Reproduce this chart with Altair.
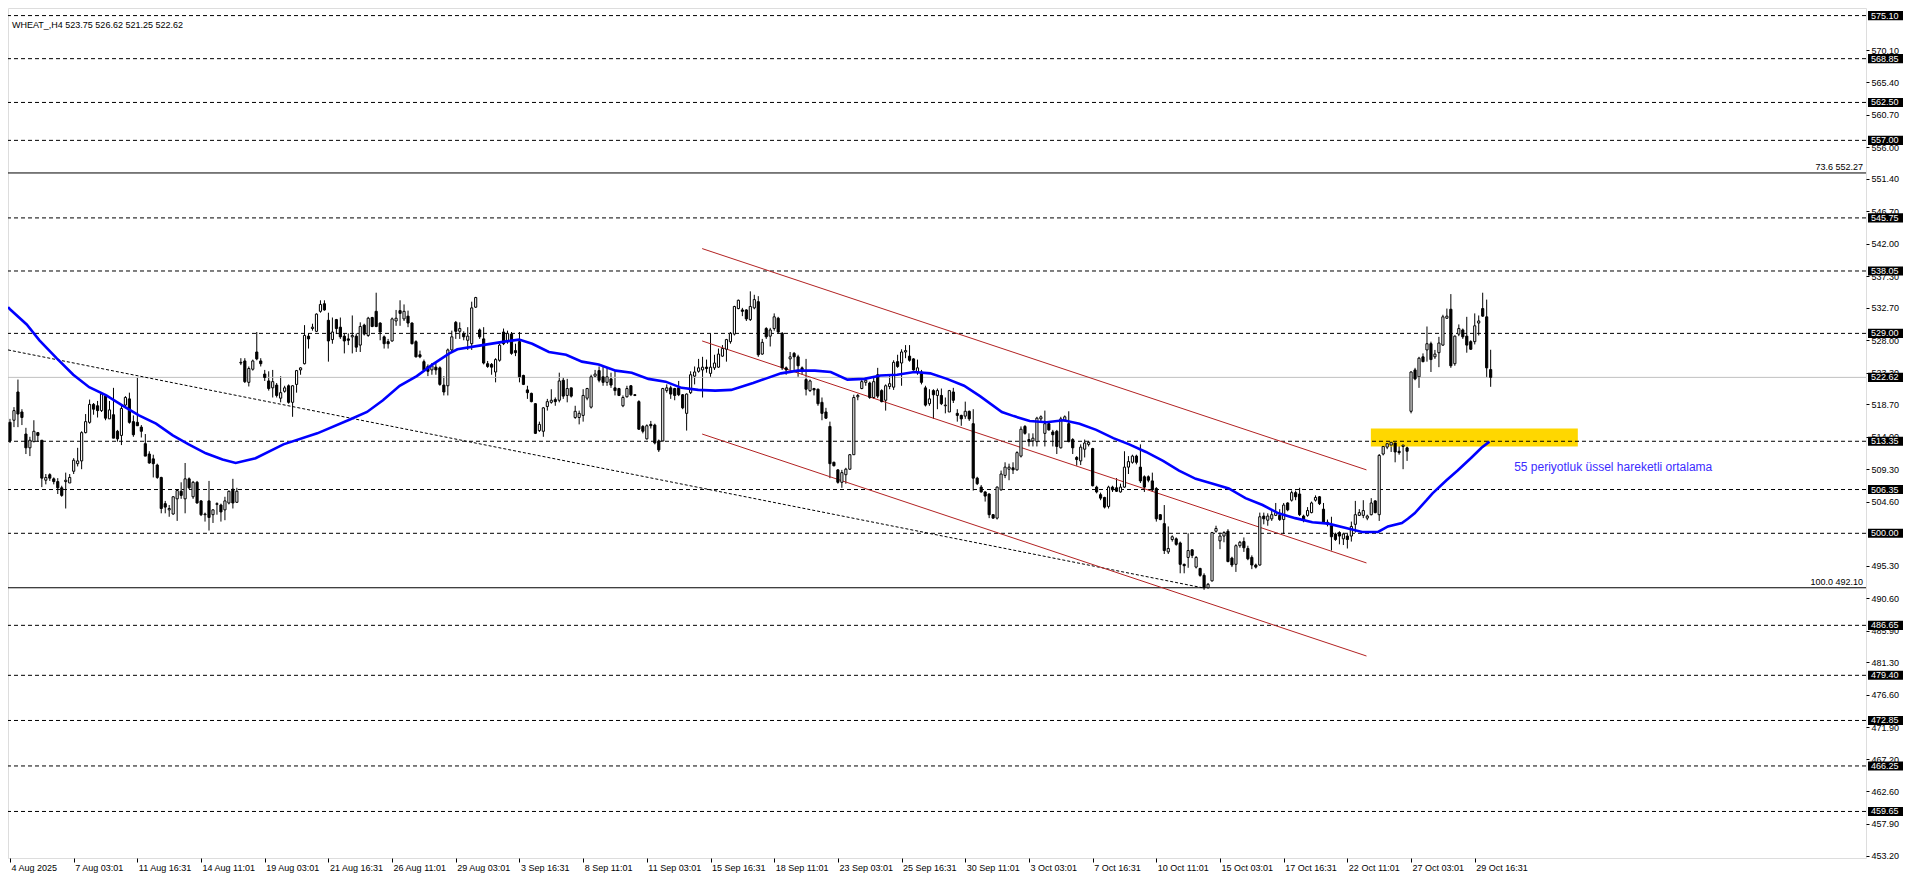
import altair as alt
import pandas as pd

title_text = "WHEAT_,H4  523.75 526.62 521.25 522.62"

opens = [
516.1, 516.4, 520.5, 517.6, 514.4, 512.4, 513.3, 514.6, 513.5, 507.7,
508.5, 507.9, 507.5, 506.6, 507.5, 507.3, 509.0, 510.1, 510.5, 514.6,
516.1, 518.7, 518.5, 517.8, 519.9, 516.6, 517.2, 514.8, 514.2, 518.6,
519.5, 516.2, 516.1, 515.4, 513.0, 511.5, 510.8, 509.9, 508.1, 504.3,
503.4, 502.8, 505.0, 506.1, 505.0, 507.9, 505.3, 507.4, 504.7, 502.7,
504.7, 502.7, 504.2, 504.1, 503.4, 504.4, 506.4, 504.5, 524.7, 525.0,
521.9, 523.8, 526.3, 525.0, 523.1, 522.1, 521.1, 521.5, 519.6, 520.6,
521.4, 519.0, 521.6, 523.7, 524.6, 528.6, 529.7, 529.3, 532.2, 533.3,
530.9, 528.1, 531.0, 529.9, 528.6, 528.2, 528.5, 528.6, 527.3, 530.2,
528.7, 531.3, 532.2, 530.5, 528.5, 527.8, 527.9, 530.8, 532.3, 531.1,
531.5, 530.5, 527.8, 525.9, 524.9, 524.2, 523.7, 524.1, 524.0, 521.5,
521.4, 526.6, 530.6, 529.3, 528.9, 528.0, 527.5, 532.8, 529.5, 528.2,
524.6, 524.5, 523.4, 525.1, 529.2, 527.8, 528.9, 526.5, 527.8, 522.9,
520.8, 520.3, 518.8, 514.9, 514.8, 518.4, 519.0, 519.4, 519.3, 522.2,
520.0, 521.1, 516.8, 516.8, 517.1, 519.6, 518.3, 522.8, 523.6, 522.7,
521.9, 522.4, 521.1, 521.0, 518.5, 519.8, 521.4, 520.1, 519.1, 515.5,
513.7, 515.8, 515.7, 513.4, 513.4, 520.7, 521.1, 521.0, 521.1, 520.1,
517.4, 520.4, 522.8, 523.5, 523.7, 524.1, 523.2, 524.0, 524.1, 525.7,
526.7, 527.8, 528.9, 532.6, 532.4, 532.4, 531.0, 532.7, 533.6, 526.0,
529.7, 528.6, 529.7, 531.2, 529.0, 524.0, 525.3, 526.1, 525.6, 524.0,
522.3, 520.7, 521.0, 520.9, 519.0, 517.6, 515.5, 510.3, 509.2, 507.4,
508.5, 509.3, 511.4, 519.8, 521.0, 521.9, 521.8, 519.7, 523.0, 520.7,
519.3, 521.3, 521.2, 524.9, 524.7, 526.3, 525.7, 525.3, 523.3, 523.4,
521.1, 518.8, 520.7, 520.0, 520.0, 518.5, 517.6, 520.5, 517.4, 517.1,
517.0, 517.7, 515.9, 508.0, 506.7, 506.0, 505.7, 502.7, 502.2, 506.3,
508.4, 509.3, 509.5, 509.2, 511.2, 515.5, 513.6, 513.4, 513.3, 516.6,
514.5, 515.9, 514.7, 514.8, 512.4, 516.4, 515.9, 513.6, 511.0, 510.5,
512.2, 512.9, 512.3, 506.7, 505.6, 505.2, 503.9, 506.7, 506.6, 506.0,
506.7, 509.6, 510.3, 511.2, 509.6, 508.2, 508.2, 507.6, 506.5, 502.7,
501.4, 497.3, 499.1, 499.2, 498.6, 495.5, 496.5, 497.6, 495.1, 494.9,
493.9, 492.1, 493.1, 500.3, 498.9, 499.6, 500.3, 496.4, 495.5, 498.2,
498.8, 497.8, 496.5, 495.4, 495.4, 502.5, 501.9, 502.1, 502.6, 502.6,
502.0, 504.4, 504.8, 505.9, 505.7, 502.5, 502.6, 503.0, 504.8, 505.3,
503.5, 501.6, 501.1, 499.9, 500.1, 499.2, 499.6, 499.6, 501.3, 502.6,
502.6, 502.2, 502.7, 504.7, 502.7, 511.5, 512.5, 512.8, 513.1, 511.9,
512.6, 512.4, 517.7, 523.7, 522.7, 525.6, 526.6, 527.5, 525.6, 526.2,
527.3, 531.2, 532.5, 524.6, 528.9, 529.5, 528.6, 527.8, 527.8, 530.5,
532.6, 531.4, 523.75]

highs = [
516.6, 518.3, 522.3, 518.0, 515.3, 514.0, 516.4, 514.7, 513.5, 508.6,
508.7, 508.1, 508.0, 506.9, 508.8, 508.6, 510.9, 512.4, 514.8, 517.3,
519.4, 518.9, 519.2, 520.4, 520.2, 519.2, 521.1, 515.0, 518.5, 519.9,
520.4, 517.1, 522.6, 515.7, 514.4, 511.9, 511.4, 510.1, 508.2, 504.7,
504.1, 505.4, 506.4, 507.4, 510.2, 508.1, 507.6, 507.6, 504.8, 503.0,
507.6, 503.5, 504.5, 504.3, 505.3, 506.2, 507.9, 506.6, 525.4, 525.4,
524.2, 525.2, 529.2, 525.4, 523.7, 523.5, 523.7, 521.8, 522.8, 521.4,
521.6, 521.5, 523.7, 524.1, 530.2, 529.0, 530.4, 531.9, 533.8, 533.8,
532.0, 531.3, 531.1, 531.3, 529.0, 529.0, 531.6, 529.0, 530.6, 530.4,
531.4, 531.4, 534.9, 530.6, 528.7, 528.2, 531.3, 532.4, 533.8, 533.2,
532.3, 530.6, 528.0, 526.5, 525.2, 524.5, 524.7, 524.7, 524.2, 522.8,
526.8, 529.4, 530.8, 530.6, 529.3, 529.9, 533.6, 534.3, 529.7, 529.9,
525.0, 524.7, 525.4, 527.5, 529.7, 529.4, 529.2, 527.5, 529.2, 523.0,
521.4, 520.4, 518.9, 516.2, 518.3, 519.5, 520.9, 519.7, 523.3, 522.6,
522.4, 521.1, 518.5, 517.8, 520.9, 521.1, 523.0, 523.7, 524.2, 524.2,
524.0, 523.3, 523.7, 521.1, 520.0, 521.4, 521.5, 520.2, 519.3, 515.7,
515.8, 516.3, 515.9, 513.6, 521.1, 521.6, 521.4, 521.1, 522.1, 520.2,
520.3, 523.5, 524.2, 525.3, 525.6, 525.2, 529.0, 525.9, 526.8, 527.3,
528.2, 529.2, 533.0, 533.9, 532.7, 532.5, 535.1, 534.6, 534.4, 528.2,
529.9, 529.8, 531.9, 531.4, 529.2, 524.2, 526.3, 526.3, 525.9, 524.2,
525.3, 522.3, 521.1, 521.0, 519.7, 518.2, 516.2, 510.4, 509.3, 509.2,
509.5, 511.5, 520.1, 520.2, 522.4, 522.6, 522.0, 522.8, 524.0, 520.9,
521.6, 523.0, 525.1, 525.9, 526.7, 527.3, 527.3, 525.4, 525.2, 523.7,
521.4, 520.9, 520.9, 521.0, 521.0, 519.7, 520.8, 521.1, 518.0, 517.2,
519.1, 517.8, 518.0, 508.2, 507.0, 506.1, 505.8, 502.8, 506.8, 509.1,
510.3, 510.1, 510.3, 511.9, 515.5, 515.7, 514.5, 514.5, 516.9, 517.1,
517.8, 516.2, 515.0, 515.0, 516.9, 517.1, 517.7, 513.8, 511.2, 512.9,
513.6, 513.4, 512.4, 506.9, 505.9, 505.3, 506.9, 506.9, 508.0, 507.2,
511.9, 511.2, 511.4, 511.4, 512.9, 508.4, 508.4, 508.8, 506.7, 502.8,
504.1, 501.0, 499.7, 499.4, 498.8, 495.6, 500.0, 497.7, 496.7, 495.0,
494.2, 492.8, 500.2, 501.1, 500.1, 500.3, 500.6, 496.6, 498.4, 498.9,
499.4, 498.2, 496.8, 495.6, 503.0, 503.0, 502.9, 503.4, 504.4, 503.5,
504.4, 504.5, 506.2, 506.2, 506.6, 502.7, 503.8, 504.6, 505.5, 505.4,
504.4, 502.0, 502.4, 500.1, 500.3, 500.1, 499.9, 501.7, 504.7, 503.5,
504.8, 502.7, 505.1, 504.8, 511.5, 513.0, 513.7, 513.6, 513.3, 512.9,
514.8, 512.6, 523.5, 524.0, 525.6, 526.1, 530.0, 527.8, 526.6, 528.5,
531.7, 532.6, 534.7, 528.7, 530.3, 529.7, 531.4, 528.0, 531.9, 531.6,
534.9, 533.9, 526.62]

lows = [
513.1, 515.4, 515.4, 515.7, 511.5, 511.2, 513.2, 513.3, 506.7, 507.1,
507.6, 507.1, 505.7, 505.3, 503.6, 507.3, 508.6, 509.7, 509.3, 514.5,
515.9, 517.2, 516.8, 517.6, 516.4, 516.6, 513.8, 513.3, 512.8, 518.4,
515.9, 514.0, 515.6, 513.9, 511.2, 510.1, 508.1, 507.9, 502.9, 502.9,
502.4, 502.7, 501.8, 505.0, 502.9, 506.4, 505.0, 504.3, 502.5, 501.7,
500.4, 501.5, 502.7, 501.7, 501.9, 504.2, 503.6, 504.4, 524.4, 521.8,
521.3, 523.6, 525.1, 524.2, 522.1, 520.7, 519.7, 519.7, 519.0, 520.4,
518.8, 516.9, 520.4, 523.0, 524.5, 526.8, 529.4, 529.2, 532.0, 532.3,
524.9, 527.5, 528.9, 528.2, 526.1, 527.3, 526.1, 526.3, 526.3, 528.7,
528.5, 529.9, 529.9, 528.0, 526.8, 526.8, 527.8, 530.1, 530.1, 530.8,
529.9, 527.4, 525.5, 525.4, 523.5, 522.8, 523.0, 523.0, 521.4, 520.0,
520.0, 526.3, 528.2, 528.2, 528.0, 526.6, 526.6, 532.7, 528.2, 524.5,
524.0, 523.0, 521.9, 524.9, 527.3, 527.5, 525.9, 525.7, 521.9, 521.5,
519.5, 519.0, 514.4, 514.7, 514.0, 517.8, 518.8, 518.5, 519.0, 519.5,
519.0, 519.7, 516.6, 515.8, 516.2, 519.3, 518.1, 522.6, 521.9, 521.4,
521.4, 521.1, 520.0, 519.9, 518.3, 519.7, 519.9, 519.9, 515.0, 514.5,
513.6, 515.2, 512.9, 511.8, 513.3, 520.4, 519.5, 519.3, 519.9, 518.0,
514.9, 520.2, 521.6, 523.3, 519.7, 523.3, 522.7, 523.7, 524.0, 525.6,
524.9, 527.5, 528.7, 532.5, 531.5, 530.8, 530.8, 532.5, 525.6, 525.9,
528.2, 527.1, 529.4, 529.0, 523.7, 523.0, 523.7, 523.7, 522.7, 523.0,
520.0, 520.5, 520.0, 518.5, 516.4, 516.6, 508.0, 509.7, 507.2, 506.6,
507.2, 509.2, 511.4, 519.3, 520.9, 521.4, 519.5, 519.5, 519.6, 519.0,
517.8, 520.9, 520.8, 524.0, 521.4, 525.4, 524.9, 523.6, 523.0, 521.6,
518.4, 518.5, 516.6, 518.0, 518.6, 517.4, 517.6, 518.9, 516.2, 515.6,
516.6, 516.3, 506.2, 507.0, 505.9, 504.6, 502.2, 502.1, 502.0, 506.2,
508.0, 507.7, 508.6, 509.1, 511.0, 514.3, 512.6, 512.6, 512.6, 516.2,
512.6, 514.9, 512.6, 511.5, 512.3, 516.2, 513.2, 511.5, 509.8, 509.9,
511.0, 512.6, 506.8, 505.8, 504.8, 503.6, 503.6, 506.0, 506.0, 505.9,
506.6, 508.6, 510.1, 510.0, 507.3, 506.0, 507.4, 506.0, 501.7, 501.9,
497.0, 497.0, 498.8, 498.2, 494.2, 494.2, 495.0, 496.4, 494.9, 493.7,
491.8, 492.0, 493.0, 500.1, 497.7, 498.7, 495.8, 495.1, 494.4, 497.9,
497.3, 496.1, 494.8, 494.9, 495.3, 501.3, 501.1, 501.8, 502.5, 501.8,
499.9, 503.2, 504.6, 504.8, 502.5, 501.6, 502.4, 502.9, 504.6, 504.1,
501.4, 501.0, 497.5, 498.9, 498.4, 498.3, 497.8, 498.8, 500.1, 502.5,
502.2, 501.9, 502.6, 502.9, 501.8, 511.3, 512.2, 511.8, 510.3, 511.4,
509.3, 510.5, 517.4, 522.2, 521.1, 524.8, 524.9, 523.4, 525.3, 524.1,
527.2, 531.1, 524.0, 524.3, 528.6, 528.2, 526.2, 526.6, 527.4, 528.7,
531.4, 522.6, 521.25]

closes = [
513.4, 517.8, 517.3, 516.8, 512.4, 513.5, 514.8, 514.2, 508.0, 508.1,
508.0, 507.5, 506.6, 505.5, 507.7, 508.1, 510.6, 510.5, 514.6, 516.2,
518.7, 518.0, 517.8, 520.2, 516.7, 517.9, 513.8, 513.7, 518.1, 519.7,
516.1, 514.3, 515.6, 514.8, 511.2, 510.2, 510.1, 508.1, 503.6, 503.8,
503.6, 505.3, 506.2, 505.5, 507.9, 506.6, 507.4, 504.4, 502.7, 502.8,
502.3, 503.4, 504.3, 503.1, 504.7, 506.1, 504.4, 506.1, 524.8, 522.0,
523.9, 525.0, 525.3, 524.6, 522.6, 521.0, 522.0, 520.0, 520.4, 521.1,
519.0, 521.4, 523.6, 524.0, 528.7, 528.2, 529.9, 531.8, 533.2, 532.4,
527.9, 529.2, 529.7, 528.5, 527.9, 528.0, 528.7, 527.0, 530.0, 528.9,
531.2, 530.0, 530.0, 529.2, 527.5, 527.5, 531.1, 531.2, 531.9, 532.2,
530.5, 527.5, 525.6, 525.6, 523.7, 523.5, 524.3, 523.7, 521.6, 520.5,
526.6, 528.5, 529.3, 529.7, 528.5, 528.6, 532.7, 534.2, 528.5, 524.7,
524.2, 524.1, 525.2, 527.3, 527.5, 529.0, 526.1, 526.2, 522.7, 521.6,
520.4, 519.1, 514.5, 515.8, 518.2, 519.1, 519.3, 519.1, 522.1, 519.9,
521.0, 519.9, 517.7, 517.4, 520.0, 521.0, 522.7, 523.1, 522.2, 521.9,
522.7, 521.5, 520.7, 520.0, 519.7, 521.0, 520.1, 520.0, 515.1, 514.8,
515.6, 515.6, 513.1, 512.1, 521.0, 521.1, 520.2, 520.0, 520.1, 518.2,
520.2, 523.0, 523.4, 524.0, 524.1, 523.9, 524.1, 524.7, 526.0, 526.8,
528.1, 529.0, 532.9, 533.8, 532.2, 531.1, 532.9, 533.9, 525.9, 527.7,
528.5, 529.5, 531.4, 529.2, 524.0, 523.7, 525.6, 525.6, 524.3, 523.5,
520.9, 522.1, 520.8, 518.8, 517.4, 516.7, 510.1, 509.8, 507.4, 508.8,
509.3, 511.4, 519.7, 520.0, 522.0, 522.2, 519.7, 522.0, 519.9, 519.1,
521.4, 521.7, 524.8, 524.2, 526.3, 526.5, 525.1, 523.7, 524.0, 521.9,
518.6, 519.5, 520.1, 520.7, 518.8, 518.6, 520.7, 519.3, 517.1, 516.6,
517.7, 516.6, 508.0, 507.2, 506.0, 505.4, 502.7, 502.2, 506.7, 508.6,
509.6, 509.6, 509.2, 511.7, 515.1, 514.5, 513.3, 513.8, 516.7, 516.9,
515.9, 515.0, 514.3, 512.6, 516.6, 516.9, 513.3, 512.4, 510.7, 512.5,
513.1, 513.2, 506.9, 506.0, 505.1, 503.8, 506.7, 506.3, 506.1, 506.7,
509.6, 510.4, 511.2, 510.3, 507.6, 506.7, 507.7, 506.3, 502.1, 502.0,
497.5, 497.8, 499.5, 498.4, 495.5, 495.3, 497.5, 496.8, 496.5, 493.9,
492.1, 492.6, 500.1, 500.7, 499.6, 500.1, 495.9, 495.4, 498.2, 498.7,
497.9, 496.3, 495.4, 495.1, 502.4, 502.1, 502.5, 502.7, 503.0, 502.0,
504.1, 503.4, 505.9, 505.3, 502.7, 501.9, 503.3, 504.4, 505.2, 504.3,
501.6, 501.3, 499.5, 499.1, 499.6, 499.9, 499.1, 501.0, 502.7, 503.0,
503.3, 502.5, 504.4, 503.0, 511.3, 512.6, 513.0, 513.2, 511.8, 511.7,
512.8, 511.9, 523.4, 522.4, 525.4, 524.9, 527.5, 525.2, 526.0, 527.6,
531.4, 531.5, 524.3, 528.6, 529.7, 528.5, 527.3, 526.7, 530.1, 530.8,
531.5, 524.0, 522.62]

time_labels = ["4 Aug 2025", "7 Aug 03:01", "11 Aug 16:31", "14 Aug 11:01",
               "19 Aug 03:01", "21 Aug 16:31", "26 Aug 11:01", "29 Aug 03:01",
               "3 Sep 16:31", "8 Sep 11:01", "11 Sep 03:01", "15 Sep 16:31",
               "18 Sep 11:01", "23 Sep 03:01", "25 Sep 16:31", "30 Sep 11:01",
               "3 Oct 03:01", "7 Oct 16:31", "10 Oct 11:01", "15 Oct 03:01",
               "17 Oct 16:31", "22 Oct 11:01", "27 Oct 03:01", "29 Oct 16:31"]
label_step = 16

ema_bars = [-0.5, 0, 4.2, 7.4, 11.7, 15.9, 19.9, 24.2, 28.4, 32.4, 36.7, 40.9, 44.9,
            49.2, 53.4, 56.7, 61.7, 68.7, 77.2, 85.4, 89.7, 93.7, 97.9, 102.2, 106.2,
            110.4, 112.4, 118.7, 124.2, 127.9, 131.2, 135.4, 139.7, 143.7, 147.9,
            152.2, 156.2, 160.4, 164.7, 168.7, 172.9, 177.2, 181.2, 186.7, 189.7,
            193.7, 197.9, 202.2, 206.2, 210.4, 214.7, 218.7, 222.9, 227.2, 231.2,
            235.4, 239.7, 243.7, 249.2, 252.2, 256.2, 260.4, 264.7, 268.7, 272.9,
            277.2, 281.2, 285.4, 289.7, 293.7, 297.9, 302.2, 306.2, 310.4, 314.7,
            318.7, 322.9, 327.2, 331.2, 335.4, 339.7, 343.7, 346.2, 349.7, 351.2,
            352.9, 355.9, 357.4, 360.9, 363.7, 367.2, 369.7, 371.7]
ema_values = [532.8, 532.5, 530.3, 528.0, 525.4, 523.0, 521.2, 520.0, 518.5, 517.1, 515.9,
              514.2, 512.9, 511.6, 510.7, 510.2, 510.9, 512.9, 514.5, 516.5, 517.6, 519.3,
              521.4, 522.8, 524.5, 526.1, 526.7, 527.3, 527.8, 528.1, 527.5, 526.3, 525.9,
              524.9, 524.5, 523.6, 523.3, 522.4, 522.0, 521.1, 520.8, 520.7, 520.8, 521.8,
              522.4, 523.2, 523.6, 523.6, 523.4, 522.3, 522.4, 522.9, 523.0, 523.4, 523.2,
              522.4, 521.4, 519.9, 517.6, 517.0, 516.3, 516.1, 516.4, 515.9, 515.0, 513.8,
              512.9, 511.8, 510.5, 509.1, 507.9, 507.2, 506.5, 505.1, 504.1, 502.9, 502.2,
              501.6, 501.4, 500.8, 500.2, 500.2, 501.0, 501.5, 502.1, 502.9, 504.8, 505.8,
              507.7, 509.1, 511.0, 512.4, 513.3]

level_prices = [575.10, 568.85, 562.50, 557.00, 545.75, 538.05, 529.00, 513.35,
                506.35, 500.00, 486.65, 479.40, 472.85, 466.25, 459.65]
fib_prices = [552.27, 492.10]
fib_labels = ["73.6 552.27", "100.0 492.10"]
last_price = 522.62
price_ticks = [453.2, 457.9, 462.6, 467.2, 471.9, 476.6, 481.3, 485.9, 490.6, 495.3,
               504.6, 509.3, 514.0, 518.7, 523.3, 528.0, 532.7, 537.3, 542.0,
               546.7, 551.4, 556.0, 560.7, 565.4, 570.1]

channel_start_bar = 173.9
channel_end_bar = 340.8
channel_start = [541.3, 527.9, 514.4]
channel_end = [509.2, 495.7, 482.2]

trend_bars = [-0.5, 299.6]
trend_prices = [526.6, 492.1]

zone_bars = [341.9, 393.9]
zone_prices = [512.6, 515.2]

note_text = "55 periyotluk üssel hareketli ortalama"
note_bar = 377.9
note_price = 509.65

# ---------------- layout ----------------
W, H = 1858, 850
FONT = "Liberation Sans"
xs = alt.Scale(domain=[-0.5, 466.3], nice=False, zero=False)
ys = alt.Scale(domain=[452.9, 576.2], nice=False, zero=False)

n = len(closes)
candles = pd.DataFrame({"bar": list(range(n)), "o": opens, "h": highs,
                        "l": lows, "c": closes})
candles["x0"] = candles["bar"] - 0.27
candles["x1"] = candles["bar"] + 0.27
candles["top"] = candles[["o", "c"]].max(axis=1)
candles["bot"] = candles[["o", "c"]].min(axis=1)

label_expr = ("[" + ",".join("'" + t + "'" for t in time_labels) + "]"
              + f"[round(datum.value / {label_step})]")

XA = alt.Axis(values=[label_step * i for i in range(len(time_labels))],
              labelExpr=label_expr, orient="bottom", tickSize=4,
              tickColor="black", labelAlign="left", labelPadding=1,
              labelOffset=1, labelFontSize=9, labelFont=FONT,
              labelColor="black", domain=False, grid=False, title=None,
              labelOverlap=False, labelFlush=False, labelBound=False)
YA = alt.Axis(values=price_ticks, format=".2f", orient="right", tickSize=3,
              tickColor="black", labelPadding=2, labelFontSize=9,
              labelFont=FONT, labelColor="black", domain=False, grid=False,
              title=None, labelOverlap=False, labelFlush=False,
              labelBound=False)


def X(field):
    return alt.X(field, scale=xs, axis=XA, title=None)


def Y(field):
    return alt.Y(field, scale=ys, axis=YA, title=None)


wicks = alt.Chart(candles).mark_rule(color="black", strokeWidth=1).encode(
    x=X("bar:Q"), y=Y("l:Q"), y2="h:Q")
bodies = alt.Chart(candles).mark_rect(stroke="black", strokeWidth=1).encode(
    x=X("x0:Q"), x2="x1:Q", y=Y("bot:Q"), y2="top:Q",
    fill=alt.condition("datum.c >= datum.o", alt.value("white"), alt.value("black")),
)

zone_df = pd.DataFrame({"b0": [zone_bars[0]], "b1": [zone_bars[1]],
                        "p0": [zone_prices[0]], "p1": [zone_prices[1]]})
zone = alt.Chart(zone_df).mark_rect(color="#ffd700").encode(
    x=X("b0:Q"), x2="b1:Q", y=Y("p0:Q"), y2="p1:Q")

lev_df = pd.DataFrame({"price": level_prices})
levels = alt.Chart(lev_df).mark_rule(color="black", strokeWidth=1,
                                     strokeDash=[4, 3]).encode(y=Y("price:Q"))

fib_df = pd.DataFrame({"price": fib_prices, "label": fib_labels})
fibs = alt.Chart(fib_df).mark_rule(color="black", strokeWidth=1).encode(
    y=Y("price:Q"))
fib_text = alt.Chart(fib_df).mark_text(align="right", baseline="bottom", dy=-1,
                                       fontSize=9, font=FONT, color="black").encode(
    x=alt.value(W - 3), y=Y("price:Q"), text="label:N")

last_df = pd.DataFrame({"price": [last_price]})
last_line = alt.Chart(last_df).mark_rule(color="#c0c0c0", strokeWidth=1).encode(
    y=Y("price:Q"))

trend_df = pd.DataFrame({"b0": [trend_bars[0]], "b1": [trend_bars[1]],
                         "p0": [trend_prices[0]], "p1": [trend_prices[1]]})
trend = alt.Chart(trend_df).mark_rule(color="black", strokeWidth=1,
                                      strokeDash=[3, 2]).encode(
    x=X("b0:Q"), x2="b1:Q", y=Y("p0:Q"), y2="p1:Q")

chan_df = pd.DataFrame({"b0": [channel_start_bar] * 3, "b1": [channel_end_bar] * 3,
                        "p0": channel_start, "p1": channel_end})
channel = alt.Chart(chan_df).mark_rule(color="#b22222", strokeWidth=1).encode(
    x=X("b0:Q"), x2="b1:Q", y=Y("p0:Q"), y2="p1:Q")

ema_df = pd.DataFrame({"bar": ema_bars, "ema": ema_values})
ema = alt.Chart(ema_df).mark_line(color="#0000ff", strokeWidth=2.6, clip=True).encode(
    x=X("bar:Q"), y=Y("ema:Q"))

note_df = pd.DataFrame({"bar": [note_bar], "price": [note_price], "t": [note_text]})
note = alt.Chart(note_df).mark_text(align="left", baseline="middle", fontSize=12,
                                    font=FONT, color="#3b2cff").encode(
    x=X("bar:Q"), y=Y("price:Q"), text="t:N")

title_df = pd.DataFrame({"t": [title_text]})
title = alt.Chart(title_df).mark_text(align="left", baseline="middle", fontSize=9,
                                      font=FONT, color="black").encode(
    x=alt.value(4), y=alt.value(17), text="t:N")

box_vals = level_prices + [last_price]
box_df = pd.DataFrame({"price": box_vals,
                       "lo": [v - 0.66 for v in box_vals],
                       "hi": [v + 0.66 for v in box_vals],
                       "label": [f"{v:.2f}" for v in box_vals]})
boxes = alt.Chart(box_df).mark_rect(color="black").encode(
    x=alt.value(W + 2), x2=alt.value(W + 37), y=Y("lo:Q"), y2="hi:Q")
box_text = alt.Chart(box_df).mark_text(align="left", baseline="middle", fontSize=9,
                                       font=FONT, color="white").encode(
    x=alt.value(W + 5), y=Y("price:Q"), text="label:N")

chart = alt.layer(
    wicks, zone, levels, fibs, last_line, trend, channel, bodies, ema,
    fib_text, note, title, boxes, box_text
).properties(
    width=W, height=H,
    padding={"left": 0, "top": 0, "right": 42, "bottom": 18},
    autosize=alt.AutoSizeParams(type="none"),
).configure_view(stroke="black", strokeWidth=1).configure(font=FONT, background="white")

chart.save("out.html", embed_options={"renderer": "svg", "actions": False})
